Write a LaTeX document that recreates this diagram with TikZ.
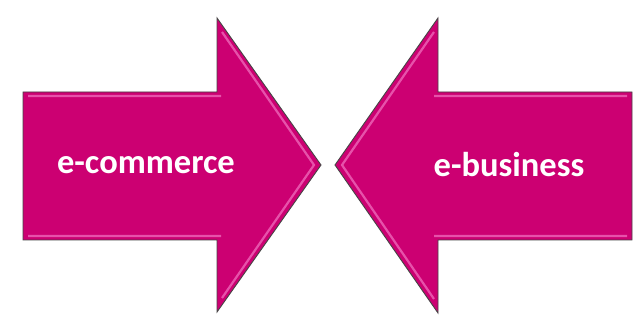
\documentclass[tikz,border=0pt]{standalone}
\usepackage{fontspec}
\setmainfont{Carlito}
\usetikzlibrary{calc}
\definecolor{arrowpink}{RGB}{204,0,114}
\definecolor{bevelpink}{RGB}{240,110,190}
\definecolor{edgegray}{RGB}{70,70,70}
\begin{document}
\begin{tikzpicture}[x=1pt,y=1pt,
  blockarrow/.style={fill=arrowpink,draw=edgegray,line width=0.9pt,line join=miter},
  bevel/.style={draw=bevelpink,line width=2.2pt,opacity=0.75,line join=miter},
  lbl/.style={font=\fontsize{34.5}{38}\selectfont\bfseries,text=white}]
\useasboundingbox[fill=white] (0,0) rectangle (641,329);
% left arrow: e-commerce
\draw[blockarrow] (23,89) -- (217,89) -- (217,17) -- (321,164)
  -- (217,311) -- (217,237) -- (23,237) -- cycle;
\draw[bevel] (28,93) -- (221,93) (222,31) -- (314,164) -- (222,297)
  (221,233) -- (28,233);
% right arrow: e-business
\draw[blockarrow] (632,89) -- (438,89) -- (438,16) -- (335,164)
  -- (438,311) -- (438,237) -- (632,237) -- cycle;
\draw[bevel] (627,93) -- (434,93) (434,30) -- (342,164) -- (434,297)
  (627,233) -- (434,233);
\node[lbl] (ecommerce) at (146,164) {e-commerce};
\node[lbl] (ebusiness) at (509,164) {e-business};
\end{tikzpicture}
\end{document}
